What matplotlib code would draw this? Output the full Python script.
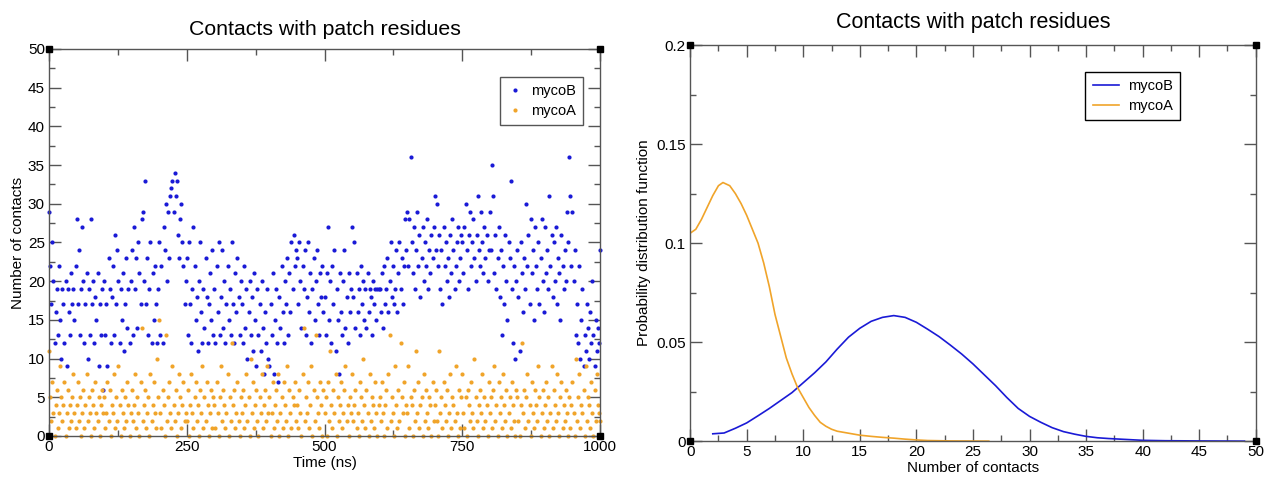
import numpy as np
import matplotlib
matplotlib.use('Agg')
import matplotlib.pyplot as plt
from matplotlib.ticker import MultipleLocator

plt.rcParams['font.family'] = ['Liberation Sans', 'DejaVu Sans']

"""Data: contacts per frame (1 frame / 2 ns), 25 frames per line."""
myco_b_txt = """
29 22 17 25 20 12 16 19 13 22 15 10 19 17 12 20 9 19 16 13 21 17 19 15 22
28 17 24 13 19 27 20 12 17 21 10 19 13 28 17 20 12 18 15 21 9 17 13 19 6
20 13 17 9 23 19 12 18 22 13 26 17 24 20 12 19 15 21 11 17 23 14 19 12 20
24 13 27 19 23 14 25 21 17 28 29 20 33 17 23 13 19 25 12 21 15 22 17 12 19
25 13 22 12 27 24 30 20 29 23 31 32 33 29 34 31 33 26 23 28 30 25 22 17 20
23 13 25 17 12 19 27 22 15 18 11 20 25 16 12 19 14 23 18 12 17 21 15 24 13
19 12 22 16 25 13 18 24 14 20 12 17 22 15 19 13 25 17 12 21 16 23 18 13 20
17 12 22 14 19 10 16 20 13 18 11 21 15 9 19 13 17 11 20 14 8 16 12 19 10
9 17 13 21 8 15 19 12 7 18 14 22 16 12 20 17 23 13 21 16 25 19 26 22 24
23 17 25 20 14 22 19 24 13 18 25 16 21 12 19 23 15 20 24 17 13 21 18 22 16
18 13 21 27 15 20 12 22 17 24 11 19 15 8 21 16 13 20 24 14 18 12 21 16 19
27 18 25 14 21 16 19 13 22 17 20 15 19 14 21 16 19 18 13 20 17 19 15 19 19
19 16 21 14 22 17 19 23 16 20 25 18 22 17 19 24 16 21 25 19 23 17 22 28 24
29 22 28 36 25 21 27 19 24 29 22 26 18 23 27 20 25 22 28 19 24 21 26 23 27
31 24 30 22 26 19 24 17 27 22 25 20 23 18 26 21 28 24 19 22 25 27 20 23 26
25 21 27 30 24 19 26 29 22 25 28 23 20 26 31 24 22 29 25 21 27 23 26 20 24
29 24 35 31 21 26 19 23 27 18 24 13 22 17 26 20 15 25 23 33 19 12 22 10 20
24 18 11 25 21 16 23 19 30 22 26 17 28 21 24 15 27 22 19 25 17 23 28 20 16
27 21 24 19 31 22 26 18 25 20 27 17 23 21 15 26 22 19 24 20 29 25 36 31 22
29 20 24 13 17 12 22 10 15 19 9 13 11 17 14 10 16 12 20 13 9 15 11 14 12
24
"""

myco_a_txt = """
11 5 2 7 3 0 4 6 1 3 9 5 2 4 7 0 3 6 1 4 2 5 8 3 1
4 7 2 5 0 3 6 1 4 8 2 5 3 0 6 4 1 7 3 2 5 0 4 6 3
5 1 3 7 2 6 0 4 3 8 1 5 2 9 4 0 6 3 1 5 2 7 4 0 3
6 2 4 8 1 5 3 0 7 14 2 4 6 1 3 5 0 8 2 4 7 3 1 10 5
15 3 1 6 4 0 13 2 5 7 3 1 9 4 2 6 0 3 8 5 1 4 7 2 3
2 6 0 4 8 3 1 5 7 2 4 0 6 3 9 1 5 2 7 4 0 3 6 1 5
4 1 7 3 0 5 9 2 6 4 1 3 8 0 5 2 12 4 6 1 3 7 2 0 5
3 6 1 4 8 2 5 0 10 3 7 1 4 6 2 0 5 3 8 1 4 6 2 9 3
5 0 3 7 1 4 6 2 8 0 3 5 1 7 4 2 9 0 6 3 1 5 4 7 2
4 1 6 3 0 8 14 2 5 3 7 1 4 9 0 6 2 13 5 3 1 7 4 0 6
3 5 0 7 2 11 4 1 6 3 8 0 5 2 4 7 1 3 6 9 2 4 0 5 3
8 2 4 6 1 3 0 7 5 2 10 4 1 6 3 0 8 2 5 4 1 7 3 0 4
5 2 7 3 0 4 6 1 8 13 2 5 3 0 9 4 1 6 2 12 5 3 7 0 4
3 9 1 5 4 0 6 2 11 3 7 1 4 5 0 8 2 6 3 1 5 4 0 7 2
4 6 2 0 11 3 5 1 7 4 2 6 0 3 8 1 5 4 2 9 3 0 6 1 5
8 3 1 5 0 6 4 2 7 3 1 10 5 2 0 4 6 3 8 1 5 2 4 0 7
3 5 1 6 9 2 4 0 7 3 5 1 8 4 2 6 0 3 5 1 7 4 2 0 6
5 2 0 4 12 3 6 1 5 8 2 4 0 7 3 1 6 4 2 9 5 0 3 6 1
4 7 2 5 0 3 9 1 6 4 2 8 3 0 5 7 1 4 2 6 3 0 5 1 4
7 3 0 10 2 5 8 1 4 3 6 0 9 2 5 4 1 7 3 0 6 2 8 4 3
2
"""

myco_b = [int(v) for v in myco_b_txt.split()]
myco_a = [int(v) for v in myco_a_txt.split()]
time_b = np.arange(len(myco_b)) * 2
time_a = np.arange(len(myco_a)) * 2

"""Data: probability distribution of contacts."""
pdf_b_x = [2, 3, 4, 5, 6, 7, 8, 9, 10, 11, 12, 13, 14, 15, 16, 17, 18, 19, 20, 21,
           22, 23, 24, 25, 26, 27, 28, 29, 30, 31, 32, 33, 34, 35, 36, 37, 38, 39,
           40, 42, 45, 49]
pdf_b_y = [0.0037, 0.0041, 0.0065, 0.0092, 0.0128, 0.0165, 0.0205, 0.0245, 0.0295,
           0.0345, 0.0400, 0.0465, 0.0525, 0.0570, 0.0605, 0.0625, 0.0634, 0.0625,
           0.0600, 0.0565, 0.0528, 0.0485, 0.0440, 0.0390, 0.0335, 0.0280, 0.0220,
           0.0165, 0.0125, 0.0095, 0.0068, 0.0048, 0.0035, 0.0024, 0.0017, 0.0013,
           0.0010, 0.0007, 0.0004, 0.0002, 0.0001, 0.0]

pdf_a_x = [0.0, 0.5, 1.0, 1.5, 2.0, 2.5, 2.9, 3.5, 4.0, 4.5, 5.0, 5.5, 6.0, 6.5,
           7.0, 7.5, 8.0, 8.5, 9.0, 9.5, 10.0, 10.5, 11.0, 11.5, 12.0, 12.5, 13.0,
           14.0, 15.0, 16.0, 17.0, 18.0, 19.0, 20.0, 21.0, 23.0, 26.4]
pdf_a_y = [0.105, 0.107, 0.112, 0.118, 0.124, 0.129, 0.1306, 0.129, 0.125, 0.120,
           0.114, 0.107, 0.100, 0.090, 0.078, 0.064, 0.053, 0.042, 0.034, 0.027,
           0.022, 0.017, 0.013, 0.0095, 0.0075, 0.006, 0.005, 0.004, 0.003, 0.0024,
           0.0019, 0.0015, 0.001, 0.0006, 0.0003, 0.0001, 0.0]

blue = '#1a1ad6'
orange = '#f0a42a'
frame = '#555555'


def grace_axes(ax, xmaj, ymaj):
    ax.xaxis.set_major_locator(MultipleLocator(xmaj))
    ax.xaxis.set_minor_locator(MultipleLocator(xmaj / 2))
    ax.yaxis.set_major_locator(MultipleLocator(ymaj))
    ax.yaxis.set_minor_locator(MultipleLocator(ymaj / 2))
    ax.tick_params(which='both', direction='in', top=True, right=True,
                   color=frame, width=1.0, labelsize=11, pad=3)
    ax.tick_params(which='major', length=8.5)
    ax.tick_params(which='minor', length=4.3)
    for s in ax.spines.values():
        s.set_color(frame)
        s.set_linewidth(1.0)
    # little black squares at the frame corners
    ax.plot([0, 0, 1, 1], [0, 1, 0, 1], 's', color='black', ms=4.5,
            transform=ax.transAxes, clip_on=False, zorder=5)


fig = plt.figure(figsize=(12.71, 4.8), dpi=100)

# left: contacts vs time
ax1 = fig.add_axes([0.0386, 0.0917, 0.4335, 0.8063])
ax1.plot(time_b, myco_b, 'o', color=blue, ms=3.0, mew=0, clip_on=False, label='mycoB')
ax1.plot(time_a, myco_a, 'o', color=orange, ms=3.0, mew=0, clip_on=False, label='mycoA')
ax1.set_xlim(0, 1000)
ax1.set_ylim(0, 50)
grace_axes(ax1, 250, 5)
ax1.set_xlabel('Time (ns)', fontsize=11, labelpad=1)
ax1.set_ylabel('Number of contacts', fontsize=11, labelpad=2)
ax1.set_title('Contacts with patch residues', fontsize=15.3, pad=10)
leg1 = ax1.legend(loc='upper right', bbox_to_anchor=(0.969, 0.928), borderaxespad=0,
                  fontsize=10.5, fancybox=False, framealpha=1, edgecolor=frame,
                  handlelength=1.0, handletextpad=0.6, borderpad=0.5, labelspacing=0.4)
leg1.get_frame().set_linewidth(1.0)

# right: probability distribution
ax2 = fig.add_axes([0.543, 0.081, 0.445, 0.825])
ax2.plot(pdf_b_x, pdf_b_y, '-', color=blue, lw=1.2, label='mycoB')
ax2.plot(pdf_a_x, pdf_a_y, '-', color=orange, lw=1.2, label='mycoA')
ax2.set_xlim(0, 50)
ax2.set_ylim(0, 0.2)
grace_axes(ax2, 5, 0.05)
ax2.set_yticks([0, 0.05, 0.1, 0.15, 0.2])
ax2.set_yticklabels(['0', '0.05', '0.1', '0.15', '0.2'])
ax2.set_xlabel('Number of contacts', fontsize=11, labelpad=1)
ax2.set_ylabel('Probability distribution function', fontsize=11, labelpad=4)
ax2.set_title('Contacts with patch residues', fontsize=15.5, pad=12)
leg2 = ax2.legend(loc='upper right', bbox_to_anchor=(0.866, 0.932), borderaxespad=0,
                  fontsize=10.5, fancybox=False, framealpha=1, edgecolor='black',
                  handlelength=1.8, handletextpad=0.6, borderpad=0.5, labelspacing=0.4)
leg2.get_frame().set_linewidth(1.0)

fig.savefig('out.png', dpi=100)
